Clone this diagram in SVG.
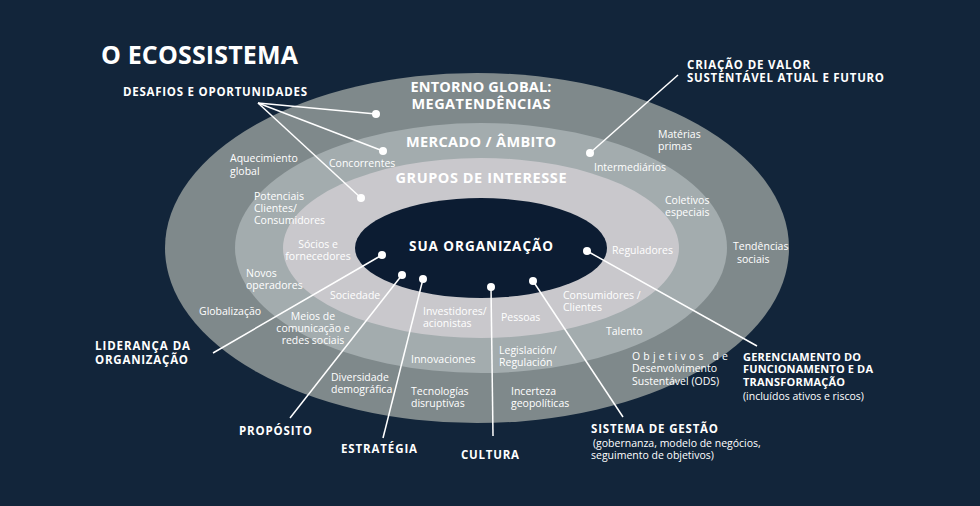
<svg xmlns="http://www.w3.org/2000/svg" width="980" height="506" viewBox="0 0 980 506">
<style>
.h{font-family:"Open Sans","Noto Sans",sans-serif;font-weight:700;fill:#ffffff}
.t{font-family:"Open Sans","Noto Sans",sans-serif;font-size:10.5px;fill:#ffffff}
.c{stroke:#ffffff;stroke-width:1.5;fill:none}
.d{fill:#ffffff}
</style>
<rect width="980" height="506" fill="#12253a"/>
<g id="ellipses">
<ellipse id="entorno" cx="477" cy="248" rx="312" ry="175" fill="#7f898b"/>
<ellipse id="mercado" cx="481" cy="248" rx="246" ry="125" fill="#a3acae"/>
<ellipse id="grupos" cx="481" cy="248" rx="198" ry="90" fill="#c9c8cc"/>
<ellipse id="organizacao" cx="481" cy="248" rx="126" ry="50" fill="#0c1c32"/>
</g>
<g id="title"><text class="h" x="101" y="64" font-size="25" font-weight="600" textLength="197">O ECOSSISTEMA</text></g>
<g id="connectors">
<line class="c" x1="258" y1="103" x2="376" y2="114"/>
<line class="c" x1="258" y1="103" x2="383" y2="151"/>
<line class="c" x1="258" y1="103" x2="361" y2="198"/>
<line class="c" x1="678" y1="75" x2="590" y2="153"/>
<line class="c" x1="213" y1="353" x2="382" y2="255"/>
<line class="c" x1="290" y1="418" x2="402" y2="275"/>
<line class="c" x1="383" y1="438" x2="423" y2="279"/>
<line class="c" x1="493" y1="436" x2="491" y2="287"/>
<line class="c" x1="623" y1="417" x2="533" y2="281"/>
<line class="c" x1="587" y1="251" x2="757" y2="346"/>
<circle class="d" cx="376" cy="114" r="4"/>
<circle class="d" cx="383" cy="151" r="4"/>
<circle class="d" cx="361" cy="198" r="4"/>
<circle class="d" cx="590" cy="153" r="4"/>
<circle class="d" cx="382" cy="255" r="4"/>
<circle class="d" cx="402" cy="275" r="4"/>
<circle class="d" cx="423" cy="279" r="4"/>
<circle class="d" cx="491" cy="287" r="4"/>
<circle class="d" cx="533" cy="281" r="4"/>
<circle class="d" cx="587" cy="251" r="4"/>
</g>
<g id="ring-labels">
<text class="h" font-size="14.5" text-anchor="middle" x="481" y="92" textLength="141">ENTORNO GLOBAL:</text>
<text class="h" font-size="14.5" text-anchor="middle" x="481" y="109" textLength="139">MEGATENDÊNCIAS</text>
<text class="h" font-size="14.5" text-anchor="middle" x="481" y="147" textLength="150">MERCADO / ÂMBITO</text>
<text class="h" font-size="14.5" text-anchor="middle" x="481" y="183" textLength="171">GRUPOS DE INTERESSE</text>
<text class="h" font-size="13.5" text-anchor="middle" x="481" y="251" textLength="144">SUA ORGANIZAÇÃO</text>
</g>
<g id="desafios"><text class="h" font-size="11.5" x="123" y="96" textLength="184">DESAFIOS E OPORTUNIDADES</text></g>
<g id="criacao"><text class="h" font-size="11.5" x="687" y="69" textLength="123">CRIAÇÃO DE VALOR</text><text class="h" font-size="11.5" x="687" y="82" textLength="197">SUSTENTÁVEL ATUAL E FUTURO</text></g>
<g id="lideranca"><text class="h" font-size="11.5" x="95" y="350" textLength="95">LIDERANÇA DA</text><text class="h" font-size="11.5" x="95" y="364" textLength="93">ORGANIZAÇÃO</text></g>
<g id="proposito"><text class="h" font-size="11.5" x="239" y="435" textLength="73">PROPÓSITO</text></g>
<g id="estrategia"><text class="h" font-size="11.5" x="341" y="453" textLength="76">ESTRATÉGIA</text></g>
<g id="cultura"><text class="h" font-size="11.5" x="461" y="459" textLength="58">CULTURA</text></g>
<g id="sistema"><text class="h" font-size="11.5" x="591" y="433" textLength="127">SISTEMA DE GESTÃO</text>
<text class="t" x="593" y="447">(gobernanza, modelo de negócios,</text>
<text class="t" x="591" y="459">seguimento de objetivos)</text></g>
<g id="gerenciamento"><text class="h" font-size="11" x="743" y="361" textLength="118">GERENCIAMENTO DO</text>
<text class="h" font-size="11" x="743" y="373" textLength="130">FUNCIONAMENTO E DA</text>
<text class="h" font-size="11" x="743" y="386" textLength="102">TRANSFORMAÇÃO</text>
<text class="t" x="743" y="400">(incluídos ativos e riscos)</text></g>
<g id="items">
<text class="t" x="230" y="162">Aquecimiento</text><text class="t" x="230" y="175">global</text>
<text class="t" x="329" y="167">Concorrentes</text>
<text class="t" x="254" y="200">Potenciais</text><text class="t" x="254" y="212">Clientes/</text><text class="t" x="254" y="224">Consumidores</text>
<text class="t" x="318" y="248" text-anchor="middle">Sócios e</text><text class="t" x="318" y="260" text-anchor="middle">fornecedores</text>
<text class="t" x="246" y="277">Novos</text><text class="t" x="246" y="289">operadores</text>
<text class="t" x="330" y="299">Sociedade</text>
<text class="t" x="199" y="315">Globalização</text>
<text class="t" x="313" y="320" text-anchor="middle">Meios de</text><text class="t" x="313" y="332" text-anchor="middle">comunicação e</text><text class="t" x="313" y="344" text-anchor="middle">redes sociais</text>
<text class="t" x="423" y="315">Investidores/</text><text class="t" x="423" y="327">acionistas</text>
<text class="t" x="501" y="321">Pessoas</text>
<text class="t" x="411" y="363">Innovaciones</text>
<text class="t" x="499" y="354">Legislación/</text><text class="t" x="499" y="366">Regulación</text>
<text class="t" x="331" y="381">Diversidade</text><text class="t" x="331" y="393">demográfica</text>
<text class="t" x="411" y="395">Tecnologías</text><text class="t" x="411" y="407">disruptivas</text>
<text class="t" x="511" y="395">Incerteza</text><text class="t" x="511" y="407">geopolíticas</text>
<text class="t" x="563" y="299">Consumidores /</text><text class="t" x="563" y="311">Clientes</text>
<text class="t" x="606" y="335">Talento</text>
<text class="t" x="632" y="360" textLength="96" lengthAdjust="spacing">Objetivos de</text><text class="t" x="632" y="372">Desenvolvimento</text><text class="t" x="632" y="385">Sustentável (ODS)</text>
<text class="t" x="594" y="171">Intermediários</text>
<text class="t" x="658" y="138">Matérias</text><text class="t" x="658" y="150">primas</text>
<text class="t" x="665" y="204">Coletivos</text><text class="t" x="665" y="216">especiais</text>
<text class="t" x="612" y="254">Reguladores</text>
<text class="t" x="733" y="250">Tendências</text><text class="t" x="737" y="263">sociais</text>
</g>
</svg>
